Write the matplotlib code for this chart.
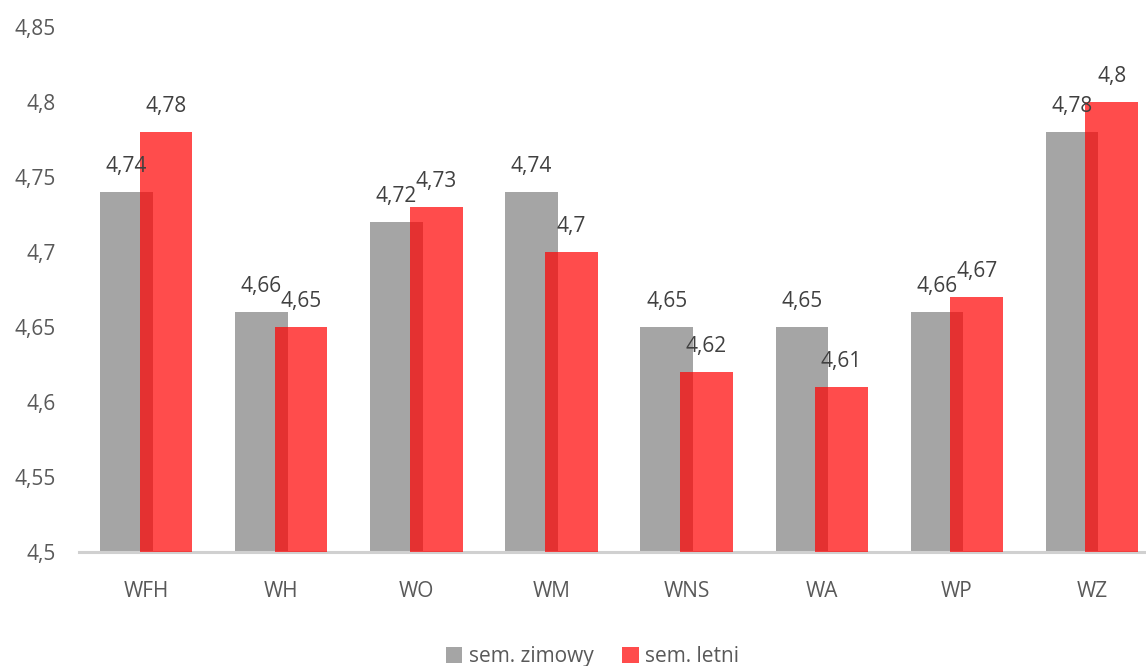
import matplotlib
matplotlib.use("Agg")
import matplotlib.pyplot as plt
import numpy as np

categories = ["WFH", "WH", "WO", "WM", "WNS", "WA", "WP", "WZ"]
zimowy = [4.74, 4.66, 4.72, 4.74, 4.65, 4.65, 4.66, 4.78]
letni = [4.78, 4.65, 4.73, 4.70, 4.62, 4.61, 4.67, 4.80]
yticks = [4.5, 4.55, 4.6, 4.65, 4.7, 4.75, 4.8, 4.85]

plt.rcParams['font.family'] = ['Open Sans', 'DejaVu Sans']
txt = '#595959'
fs = 15


def pl(v):
    return f"{v:g}".replace('.', ',')


fig = plt.figure(figsize=(11.46, 6.66), dpi=100)
ax = fig.add_axes([79 / 1146, 1 - 552 / 666, (1146 - 79) / 1146, (552 - 27) / 666])

x = np.arange(len(categories))
w = 0.39
off = 0.147
b1 = ax.bar(x - off, np.array(zimowy) - 4.5, w, bottom=4.5, color='#A5A5A5',
            label='sem. zimowy', zorder=2)
b2 = ax.bar(x + off, np.array(letni) - 4.5, w, bottom=4.5, color=(1, 0, 0, 0.7),
            label='sem. letni', zorder=3)

for xi, v in zip(x - off, zimowy):
    ax.text(xi, v + 0.01, pl(v), ha='center', va='bottom', fontsize=fs, color='#404040', zorder=5)
for xi, v in zip(x + off, letni):
    ax.text(xi, v + 0.01, pl(v), ha='center', va='bottom', fontsize=fs, color='#404040', zorder=5)

ax.set_ylim(4.5, 4.85)
ax.set_xlim(-0.497, 7.4)
ax.set_yticks(yticks)
ax.set_yticklabels([pl(v) for v in yticks], fontsize=fs, color=txt)
ax.set_xticks(x)
ax.set_xticklabels(categories, fontsize=fs, color=txt)
ax.tick_params(axis='y', length=0, pad=17)
ax.tick_params(axis='x', length=0, pad=21)
for s in ['top', 'right', 'left']:
    ax.spines[s].set_visible(False)
ax.spines['bottom'].set_color('#D0D0D0')
ax.spines['bottom'].set_linewidth(2.2)

leg = fig.legend(handles=[b1, b2], loc='lower center', bbox_to_anchor=(0.517, -0.03),
                 ncol=2, frameon=False, fontsize=fs, handlelength=0.8, handleheight=0.8,
                 handletextpad=0.3, columnspacing=1.4)
for t in leg.get_texts():
    t.set_color(txt)

fig.savefig('out.png', dpi=100)
